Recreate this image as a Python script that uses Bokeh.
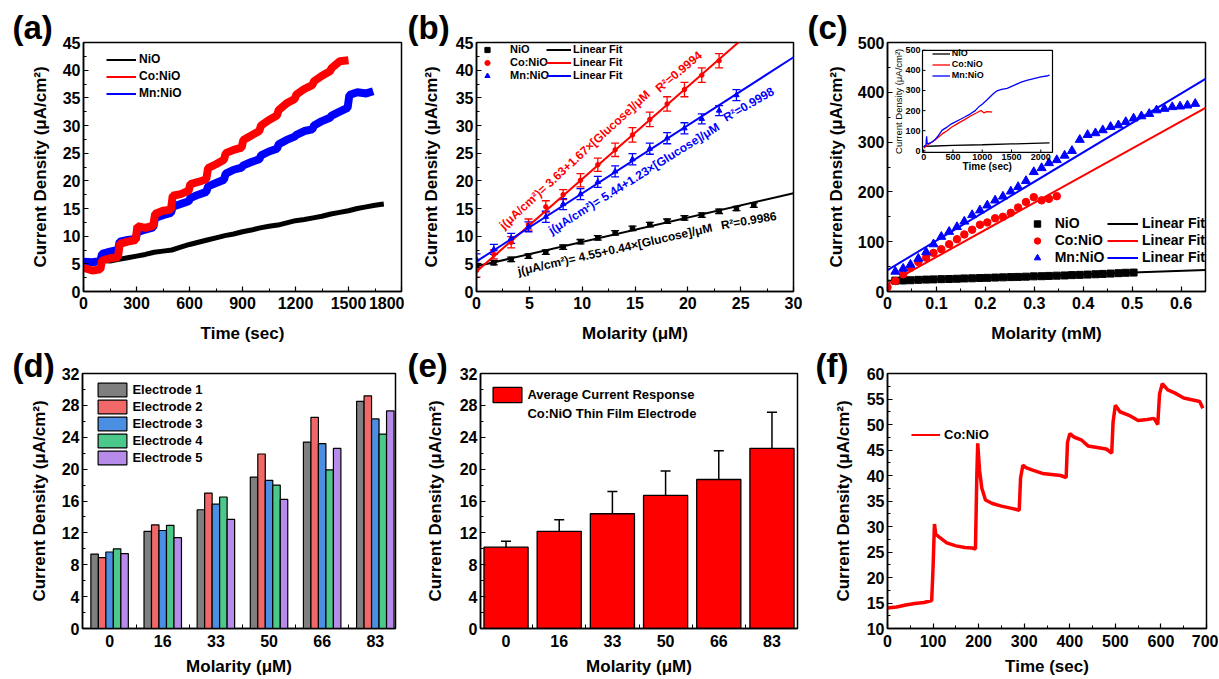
import math
from bokeh.plotting import figure
from bokeh.layouts import row, column
from bokeh.models import (Range1d, SingleIntervalTicker, FixedTicker, Legend, LegendItem,
                          Whisker, TeeHead, ColumnDataSource)
from bokeh.core.properties import value
from bokeh.embed import file_html
from bokeh.resources import INLINE

FONT = "Liberation Sans"
RED, BLUE, BLACK = "#FF0000", "#0000FF", "#000000"
YLABEL = "Current Density (μA/cm²)"

# ------------------------------------------------------------------ data
# (a) amperometric response
a_names = ["NiO", "Co:NiO", "Mn:NiO"]
a_nio_t = [0, 50, 100, 110, 150, 200, 250, 300, 350, 400, 450, 500, 550, 600, 650, 700, 750, 800,
           850, 900, 950, 1000, 1050, 1100, 1150, 1200, 1250, 1300, 1350, 1400, 1450, 1500, 1550,
           1600, 1650, 1700]
a_nio_v = [5.2, 5.3, 5.3, 5.6, 5.5, 5.8, 6.1, 6.4, 6.7, 7.1, 7.3, 7.5, 8.0, 8.5, 8.9, 9.3, 9.7, 10.1,
           10.4, 10.8, 11.1, 11.5, 11.8, 12.0, 12.4, 12.8, 13.0, 13.3, 13.6, 14.0, 14.3, 14.6, 15.0,
           15.3, 15.6, 15.8]
a_co_t = [0, 50, 95, 105, 150, 195, 205, 250, 295, 305, 350, 395, 405, 450, 495, 505, 550, 595,
          605, 650, 695, 705, 750, 795, 805, 850, 895, 905, 950, 995, 1005, 1050, 1095, 1105, 1150,
          1195, 1205, 1250, 1295, 1305, 1350, 1395, 1405, 1450, 1500]
a_co_v = [4.3, 3.8, 4.0, 5.6, 6.0, 6.2, 8.6, 9.0, 9.3, 11.8, 11.5, 11.9, 14.0, 14.6, 14.8, 17.3,
          17.6, 18.2, 19.4, 19.8, 20.3, 22.3, 23.0, 23.8, 25.0, 25.6, 26.0, 27.4, 28.2, 29.0, 30.0,
          31.0, 31.8, 32.8, 34.0, 34.8, 35.6, 36.6, 37.3, 38.0, 39.0, 39.8, 40.4, 41.6, 41.8]
a_mn_t = [0, 50, 95, 105, 150, 195, 205, 250, 295, 305, 350, 395, 405, 450, 495, 505, 550, 595,
          605, 650, 695, 705, 750, 795, 805, 850, 895, 905, 950, 995, 1005, 1050, 1095, 1105, 1150,
          1195, 1205, 1250, 1295, 1305, 1350, 1395, 1405, 1450, 1495, 1505, 1550, 1600, 1640]
a_mn_v = [5.4, 5.3, 5.5, 6.8, 7.2, 7.5, 9.0, 9.3, 9.5, 10.7, 11.2, 11.6, 13.3, 13.8, 14.2, 15.3,
          15.8, 16.3, 16.9, 17.5, 18.0, 19.0, 19.6, 20.2, 21.3, 22.0, 22.4, 22.8, 23.4, 23.9, 24.6,
          25.3, 25.8, 26.6, 27.4, 28.0, 28.3, 29.0, 29.3, 30.0, 30.8, 31.4, 31.8, 32.5, 33.2, 35.5,
          36.0, 35.8, 36.2]

# (b) calibration (µM)
b_x = [0, 1.64, 3.28, 4.92, 6.56, 8.2, 9.84, 11.48, 13.12, 14.76, 16.4, 18.04, 19.68, 21.32,
       22.96, 24.6, 26.24]
b_nio = [4.7, 5.2, 5.8, 6.4, 7.1, 8.0, 9.0, 9.7, 10.6, 11.4, 12.1, 12.7, 13.3, 13.8, 14.5, 15.0, 15.6]
b_nio_err = [0.4, 0.4, 0.4, 0.4, 0.4, 0.4, 0.4, 0.4, 0.4, 0.4, 0.4, 0.4, 0.4, 0.4, 0.4, 0.4, 0.4]
b_co = [3.8, 6.7, 8.9, 12.1, 15.3, 17.5, 20.1, 22.9, 25.6, 28.3, 31.1, 33.9, 36.5, 39.1, 41.7]
b_co_err = [1.2, 0.8, 1.0, 1.0, 1.1, 0.9, 1.2, 1.2, 1.2, 1.3, 1.3, 1.3, 1.3, 1.3, 1.3]
b_mn = [5.8, 7.6, 9.6, 11.7, 13.5, 15.8, 17.6, 19.8, 21.7, 23.9, 25.8, 27.7, 29.5, 31.2, 32.7, 35.5]
b_mn_err = [1.0, 0.9, 0.9, 0.9, 1.0, 1.0, 1.0, 1.0, 1.0, 1.0, 1.0, 1.0, 1.0, 0.9, 0.9, 1.0]
b_fit_intercept = [4.55, 3.63, 5.44]
b_fit_slope = [0.44, 1.67, 1.23]
b_r2 = ["0.9986", "0.9994", "0.9998"]

# (c) calibration (mM)
c_x = [0.000, 0.016, 0.032, 0.047, 0.063, 0.079, 0.094, 0.110, 0.126, 0.142, 0.157, 0.173, 0.189,
       0.204, 0.220, 0.236, 0.252, 0.267, 0.283, 0.299, 0.315, 0.330, 0.346, 0.362, 0.377, 0.393,
       0.409, 0.425, 0.440, 0.456, 0.472, 0.487, 0.503, 0.519, 0.535, 0.550, 0.566, 0.582, 0.598,
       0.613, 0.629]
c_nio = [21.8, 22.1, 22.6, 23.4, 23.9, 24.3, 24.8, 25.1, 25.6, 26.2, 26.5, 27.1, 27.4, 28.0, 28.4,
         28.9, 29.3, 29.8, 30.4, 30.7, 31.3, 31.8, 32.2, 32.9, 33.4, 34.0, 34.6, 35.3, 36.0, 36.8,
         37.6, 38.0]
c_co = [8.5, 21, 34.5, 47.5, 59, 68, 77.5, 85, 95, 105, 114.6, 124, 134, 138.7, 147, 150, 158,
        168.6, 179.7, 189.5, 183, 186, 191.4]
c_mn = [40, 46, 54, 66, 79, 95, 110, 120, 129.6, 140.6, 153.6, 163, 173, 183, 190.8, 201, 210, 222,
        240, 248, 258, 264, 273, 282.5, 304.7, 314.5, 318, 324, 330.7, 334, 340.5, 347.6, 352,
        356.8, 364, 367, 370.4, 371.7, 373.7, 377]
c_fit_intercept = [21.5, 15.0, 43.0]
c_fit_slope = [33.0, 544.0, 591.0]
# (c) inset: response vs time
ins_nio_t = [0, 200, 500, 1000, 1500, 2000, 2150]
ins_nio_v = [22, 24, 27, 30, 34, 38, 39]
ins_co_t = [0, 50, 100, 200, 316, 400, 469, 550, 629, 700, 800, 900, 953, 980, 1027, 1080, 1141, 1170]
ins_co_v = [12, 25, 35, 55, 84, 100, 116, 130, 144, 155, 173, 188, 197, 200, 189, 195, 194, 192]
ins_mn_t = [0, 20, 40, 50, 60, 100, 150, 200, 250, 316, 400, 469, 550, 629, 700, 800, 880, 953,
            1000, 1084, 1140, 1198, 1250, 1330, 1426, 1540, 1653, 1760, 1881, 2000, 2100, 2150]
ins_mn_v = [18, 25, 30, 72, 35, 38, 45, 58, 75, 103, 118, 133, 145, 157, 168, 184, 200, 222, 232,
            254, 270, 286, 298, 305, 311, 325, 340, 350, 359, 368, 372, 376]
ins_xticks = [0, 500, 1000, 1500, 2000]
ins_yticks = [0, 100, 200, 300, 400, 500]

# (d) five electrodes
d_cats = ["0", "16", "33", "50", "66", "83"]
d_names = ["Electrode 1", "Electrode 2", "Electrode 3", "Electrode 4", "Electrode 5"]
d_e1 = [9.34, 12.2, 14.9, 19.0, 23.4, 28.5]
d_e2 = [8.9, 13.0, 17.0, 21.9, 26.5, 29.2]
d_e3 = [9.6, 12.3, 15.6, 18.6, 23.2, 26.3]
d_e4 = [10.0, 12.95, 16.5, 18.0, 19.9, 24.4]
d_e5 = [9.4, 11.4, 13.7, 16.2, 22.6, 27.3]
d_colors = ["#7F7F7F", "#F26868", "#4A8FE3", "#4CC98A", "#B68BEA"]

# (e) average response
e_mean = [10.2, 12.2, 14.4, 16.7, 18.7, 22.6]
e_err = [0.75, 1.45, 2.8, 3.05, 3.6, 4.55]

# (f) Co:NiO stepwise response
f_t = [0, 20, 40, 60, 80, 97, 100, 103, 106, 115, 130, 150, 170, 185, 193, 196, 198, 202, 207, 215,
       230, 250, 270, 289, 292, 297, 305, 320, 340, 360, 380, 392, 395, 400, 410, 425, 440, 460,
       480, 492, 495, 500, 510, 530, 550, 570, 585, 593, 597, 603, 615, 630, 650, 670, 685, 692]
f_v = [14.0, 14.2, 14.6, 14.9, 15.1, 15.5, 22.0, 30.5, 28.5, 27.8, 26.8, 26.2, 25.9, 25.8, 25.6,
       40.0, 46.3, 41.0, 37.5, 35.2, 34.5, 34.0, 33.6, 33.2, 39.5, 42.0, 41.5, 41.0, 40.4, 40.2,
       40.0, 39.6, 46.5, 48.2, 47.5, 47.0, 45.8, 45.5, 45.2, 44.4, 50.5, 53.8, 52.5, 51.8, 50.8,
       51.0, 51.2, 50.0, 56.0, 58.0, 56.8, 56.2, 55.2, 54.8, 54.5, 53.2]


# ------------------------------------------------------------------ helpers
def make_fig(w, h, left, right, top, bottom, xr, yr, xlabel, ylabel,
             x_label_standoff=12, y_label_standoff=10, tick_standoff=5):
    p = figure(width=w, height=h, x_range=Range1d(*xr), y_range=Range1d(*yr),
               output_backend="svg", toolbar_location=None,
               min_border_left=left, min_border_right=right,
               min_border_top=top, min_border_bottom=bottom)
    p.xgrid.visible = False
    p.ygrid.visible = False
    p.outline_line_color = BLACK
    p.outline_line_width = 1.5
    p.outline_line_alpha = 1.0
    p.background_fill_color = "white"
    p.border_fill_color = "white"
    for ax in (p.xaxis[0], p.yaxis[0]):
        ax.axis_line_color = BLACK
        ax.axis_line_width = 1.5
        ax.major_tick_in = 5
        ax.major_tick_out = 0
        ax.minor_tick_in = 3
        ax.minor_tick_out = 0
        ax.major_tick_line_width = 1.2
        ax.minor_tick_line_width = 1.0
        ax.major_label_text_font = FONT
        ax.major_label_text_font_style = "bold"
        ax.major_label_text_font_size = "16px"
        ax.major_label_text_color = BLACK
        ax.axis_label_text_font = FONT
        ax.axis_label_text_font_style = "bold"
        ax.axis_label_text_font_size = "17px"
        ax.axis_label_text_color = BLACK
    p.xaxis.major_label_standoff = tick_standoff
    p.yaxis.major_label_standoff = 3
    p.xaxis.axis_label = xlabel
    p.yaxis.axis_label = ylabel
    p.xaxis.axis_label_standoff = x_label_standoff
    p.yaxis.axis_label_standoff = y_label_standoff
    return p


def panel_title(p, text, offset, valign="bottom", standoff=-6):
    p.title.text = text
    p.title.text_font = FONT
    p.title.text_font_style = "bold"
    p.title.text_font_size = "33px"
    p.title.text_color = BLACK
    p.title.align = "left"
    p.title.vertical_align = valign
    p.title.offset = offset
    p.title.standoff = standoff


def add_legend(p, items, frame_h, left, top, row_h, glyph_w, glyph_h, standoff, font_size,
               spacing=0, font_style="bold"):
    n = len(items)
    total = n * row_h + (n - 1) * spacing
    leg = Legend(items=items, location=(left, frame_h - top - total), orientation="vertical",
                 padding=0, margin=0, spacing=spacing, label_standoff=standoff,
                 glyph_width=glyph_w, glyph_height=glyph_h, label_height=row_h,
                 label_text_font=FONT, label_text_font_style=font_style,
                 label_text_font_size=font_size, label_text_color=BLACK,
                 background_fill_alpha=0, border_line_alpha=0)
    p.add_layout(leg, "center")


H1, H2 = 345, 333
FH1, FH2 = 256, 257

# ------------------------------------------------------------------ (a)
pa = make_fig(404, H1, 83, 3, 42, 47, (0, 1800), (0, 45), "Time (sec)", YLABEL)
pa.xaxis.ticker = SingleIntervalTicker(interval=300, num_minor_ticks=2)
pa.yaxis.ticker = SingleIntervalTicker(interval=5, num_minor_ticks=2)
pa.line(a_nio_t, a_nio_v, line_color=BLACK, line_width=5)
pa.line(a_mn_t, a_mn_v, line_color=BLUE, line_width=8)
pa.line(a_co_t, a_co_v, line_color=RED, line_width=8)
# one-point proxies: draw nothing in the frame, give thin legend lines
la = [pa.line([t[0]], [v[0]], line_color=c, line_width=2)
      for t, v, c in ((a_nio_t, a_nio_v, BLACK), (a_co_t, a_co_v, RED), (a_mn_t, a_mn_v, BLUE))]
add_legend(pa, [LegendItem(label=n, renderers=[r]) for n, r in zip(a_names, la)],
           FH1, 23, 15.5, 17, 30, 17, 3, "12px")
panel_title(pa, "(a)", -71)

# ------------------------------------------------------------------ (b)
pb = make_fig(399, H1, 72, 10, 42, 47, (0, 30), (0, 45), "Molarity (μM)", YLABEL,
              y_label_standoff=12)
pb.xaxis.ticker = SingleIntervalTicker(interval=5, num_minor_ticks=2)
pb.yaxis.ticker = SingleIntervalTicker(interval=5, num_minor_ticks=2)
b_sets = [(b_nio, b_nio_err, BLACK, "square", 4.5),
          (b_co, b_co_err, RED, "circle", 4.5),
          (b_mn, b_mn_err, BLUE, "triangle", 5.5)]
b_marks, b_lines = [], []
for (vals, errs, col, mk, sz), a0, a1 in zip(b_sets, b_fit_intercept, b_fit_slope):
    xs = b_x[:len(vals)]
    src = ColumnDataSource(dict(x=xs, up=[v + e for v, e in zip(vals, errs)],
                                lo=[v - e for v, e in zip(vals, errs)]))
    pb.add_layout(Whisker(source=src, base="x", upper="up", lower="lo", dimension="height",
                          line_color=col, line_width=1.3,
                          upper_head=TeeHead(size=8, line_color=col, line_width=1.3),
                          lower_head=TeeHead(size=8, line_color=col, line_width=1.3)))
    b_lines.append(pb.line([0, 30], [a0, a0 + a1 * 30], line_color=col, line_width=2))
    b_marks.append(pb.scatter(xs, vals, marker=mk, size=sz, color=col))
b_text_pos = [(13.1, 7.6, 12.8), (9.3, 23.8, 42.5), (14.9, 20.4, 32.0)]
b_r2_pos = [(25.76, 12.8, 10.0), (19.14, 39.7, 40.0), (25.76, 33.8, 30.0)]
for a0, a1, r2, col, (tx, ty, ta), (rx, ry, ra) in zip(b_fit_intercept, b_fit_slope, b_r2,
                                                        (BLACK, RED, BLUE), b_text_pos, b_r2_pos):
    pb.text(x=[tx], y=[ty], text=[f"j(μA/cm²)= {a0:.2f}+{a1:.2f}×[Glucose]/μM"],
            angle=math.radians(ta), text_color=col, text_font=value(FONT),
            text_font_style="bold", text_font_size=value("12px"),
            text_align="center", text_baseline="middle")
    pb.text(x=[rx], y=[ry], text=[f"R²={r2}"], angle=math.radians(ra), text_color=col,
            text_font=value(FONT), text_font_style="bold", text_font_size=value("12px"),
            text_align="center", text_baseline="middle")
add_legend(pb, [LegendItem(label=n, renderers=[r]) for n, r in zip(a_names, b_marks)],
           FH1, 4, 7.5, 13, 14, 13, 16, "11px")
add_legend(pb, [LegendItem(label="Linear Fit", renderers=[r]) for r in b_lines],
           FH1, 70, 7.5, 13, 25, 13, 2, "11px")
panel_title(pb, "(b)", -69)

# ------------------------------------------------------------------ (c)
pc = make_fig(415, H1, 84, 13, 42, 47, (0, 0.65), (0, 500), "Molarity (mM)", YLABEL,
              y_label_standoff=9)
pc.xaxis.ticker = SingleIntervalTicker(interval=0.1, num_minor_ticks=2)
pc.yaxis.ticker = SingleIntervalTicker(interval=100, num_minor_ticks=2)
c_sets = [(c_x[1:1 + len(c_nio)], c_nio, BLACK, "square", 7),
          (c_x[:len(c_co)], c_co, RED, "circle", 7.5),
          (c_x[1:1 + len(c_mn)], c_mn, BLUE, "triangle", 9)]
c_marks, c_lines = [], []
for (xs, vals, col, mk, sz), a0, a1 in zip(c_sets, c_fit_intercept, c_fit_slope):
    c_lines.append(pc.line([0, 0.65], [a0, a0 + a1 * 0.65], line_color=col, line_width=2))
for (xs, vals, col, mk, sz) in c_sets:
    c_marks.append(pc.scatter(xs, vals, marker=mk, size=sz, color=col))
add_legend(pc, [LegendItem(label=n, renderers=[r]) for n, r in zip(a_names, c_marks)],
           FH1, 141.7, 179.5, 17, 16, 17, 10, "14px")
add_legend(pc, [LegendItem(label="Linear Fit", renderers=[r]) for r in c_lines],
           FH1, 220, 179.5, 17, 31, 17, 4, "14px")

# inset drawn with its own ranges inside the main frame
C_FW = 318
ins_px = dict(left=35, right=165, top=8, bottom=113)
ins_xr, ins_yr = (-20, 2200), (-8, 500)
ux = (ins_xr[1] - ins_xr[0]) / (ins_px["right"] - ins_px["left"])
uy = (ins_yr[1] - ins_yr[0]) / (ins_px["bottom"] - ins_px["top"])
ix0 = ins_xr[0] - ins_px["left"] * ux
iy1 = ins_yr[1] + ins_px["top"] * uy
pc.extra_x_ranges = {"ix": Range1d(ix0, ix0 + C_FW * ux)}
pc.extra_y_ranges = {"iy": Range1d(iy1 - FH1 * uy, iy1)}
IK = dict(x_range_name="ix", y_range_name="iy")
pc.quad(left=[ins_xr[0]], right=[ins_xr[1]], bottom=[ins_yr[0]], top=[ins_yr[1]],
        fill_color="white", line_color=BLACK, line_width=1.2, **IK)
ins_l = [pc.line(ins_nio_t, ins_nio_v, line_color=BLACK, line_width=1.3, **IK),
         pc.line(ins_co_t, ins_co_v, line_color=RED, line_width=1.3, **IK),
         pc.line(ins_mn_t, ins_mn_v, line_color=BLUE, line_width=1.3, **IK)]
pc.segment(x0=ins_xticks, x1=ins_xticks, y0=[ins_yr[0]] * len(ins_xticks),
           y1=[ins_yr[0] + 3 * uy] * len(ins_xticks), line_color=BLACK, line_width=1, **IK)
pc.segment(x0=[ins_xr[0]] * len(ins_yticks), x1=[ins_xr[0] + 3 * ux] * len(ins_yticks),
           y0=ins_yticks, y1=ins_yticks, line_color=BLACK, line_width=1, **IK)
pc.text(x=ins_xticks, y=[ins_yr[0]] * len(ins_xticks), text=[str(t) for t in ins_xticks],
        y_offset=2, text_align="center", text_baseline="top", text_font=value(FONT),
        text_font_style="bold", text_font_size=value("9px"), text_color=BLACK, **IK)
pc.text(x=[ins_xr[0]] * len(ins_yticks), y=ins_yticks, text=[str(t) for t in ins_yticks],
        x_offset=-2, text_align="right", text_baseline="middle", text_font=value(FONT),
        text_font_style="bold", text_font_size=value("9px"), text_color=BLACK, **IK)
pc.text(x=[ins_xr[0]], y=[(ins_yr[0] + ins_yr[1]) / 2], text=[YLABEL], angle=math.pi / 2,
        x_offset=-24, text_align="center", text_baseline="middle", text_font=value(FONT),
        text_font_size=value("9.5px"), text_color=BLACK, **IK)
pc.text(x=[1085], y=[ins_yr[0]], text=["Time (sec)"], y_offset=14, text_align="center",
        text_baseline="middle", text_font=value(FONT), text_font_style="bold",
        text_font_size=value("10px"), text_color=BLACK, **IK)
add_legend(pc, [LegendItem(label=n, renderers=[r]) for n, r in zip(a_names, ins_l)],
           FH1, 44.7, 12.8, 11, 18, 11, 2, "9px")
panel_title(pc, "(c)", -80)

# ------------------------------------------------------------------ (d)
pd_ = make_fig(403, H2, 82, 8, 28, 48, (-0.51, 5.38), (0, 32), "Molarity (μM)", YLABEL,
               x_label_standoff=7, tick_standoff=6)
pd_.xaxis.ticker = FixedTicker(ticks=list(range(len(d_cats))),
                               minor_ticks=[i + 0.5 for i in range(len(d_cats) - 1)])
pd_.xaxis.major_label_overrides = {i: c for i, c in enumerate(d_cats)}
pd_.xaxis.major_tick_in = 0
pd_.xaxis.minor_tick_in = 4
pd_.yaxis.ticker = SingleIntervalTicker(interval=4, num_minor_ticks=2)
bw = 0.141
d_bars = []
for k, (vals, col) in enumerate(zip([d_e1, d_e2, d_e3, d_e4, d_e5], d_colors)):
    xs = [i + (k - 2) * bw for i in range(len(d_cats))]
    d_bars.append(pd_.vbar(x=xs, top=vals, width=bw, bottom=0, fill_color=col,
                           line_color=BLACK, line_width=1.2))
add_legend(pd_, [LegendItem(label=n, renderers=[r]) for n, r in zip(d_names, d_bars)],
           FH2, 12.4, 9.5, 17, 36, 17, 2, "13px")
panel_title(pd_, "(d)", -70, valign="middle", standoff=-22)

# ------------------------------------------------------------------ (e)
pe = make_fig(402, H2, 77, 8, 28, 48, (-0.48, 5.48), (0, 32), "Molarity (μM)", YLABEL,
              x_label_standoff=7, tick_standoff=6, y_label_standoff=12)
pe.xaxis.ticker = FixedTicker(ticks=list(range(len(d_cats))),
                              minor_ticks=[i + 0.5 for i in range(len(d_cats) - 1)])
pe.xaxis.major_label_overrides = {i: c for i, c in enumerate(d_cats)}
pe.xaxis.major_tick_in = 0
pe.xaxis.minor_tick_in = 4
pe.yaxis.ticker = SingleIntervalTicker(interval=4, num_minor_ticks=2)
ex = list(range(len(d_cats)))
e_bar = pe.vbar(x=ex, top=e_mean, width=0.83, bottom=0, fill_color=RED, line_color=BLACK,
                line_width=1.3)
e_src = ColumnDataSource(dict(x=ex, up=[m + e for m, e in zip(e_mean, e_err)],
                              lo=[m - e for m, e in zip(e_mean, e_err)]))
pe.add_layout(Whisker(source=e_src, base="x", upper="up", lower="lo", dimension="height",
                      line_color=BLACK, line_width=1.5,
                      upper_head=TeeHead(size=10, line_color=BLACK, line_width=1.5),
                      lower_head=TeeHead(size=10, line_color=BLACK, line_width=1.5)))
e_blank = pe.vbar(x=[ex[0]], top=[e_mean[0]], width=0.8, fill_alpha=0, line_alpha=0)
add_legend(pe, [LegendItem(label="Average Current Response", renderers=[e_bar]),
                LegendItem(label="Co:NiO Thin Film Electrode", renderers=[e_blank])],
           FH2, 9.4, 17.1, 19, 36, 19, 2, "13px", spacing=-3)
panel_title(pe, "(e)", -73, valign="middle", standoff=-22)

# ------------------------------------------------------------------ (f)
pf = make_fig(413, H2, 82, 12, 28, 48, (0, 700), (10, 60), "Time (sec)", YLABEL,
              x_label_standoff=7, tick_standoff=6, y_label_standoff=11)
pf.xaxis.ticker = SingleIntervalTicker(interval=100, num_minor_ticks=2)
pf.yaxis.ticker = SingleIntervalTicker(interval=5, num_minor_ticks=2)
pf.line(f_t, f_v, line_color=RED, line_width=3.5)
lf = pf.line([f_t[0]], [f_v[0]], line_color=RED, line_width=2)
add_legend(pf, [LegendItem(label="Co:NiO", renderers=[lf])], FH2, 24, 55.2, 17, 29, 17, 4, "13px")
panel_title(pf, "(f)", -72, valign="middle", standoff=-22)

layout = column(row(pa, pb, pc), row(pd_, pe, pf))
open("out.html", "w").write(file_html(layout, INLINE, "Glucose sensing"))
